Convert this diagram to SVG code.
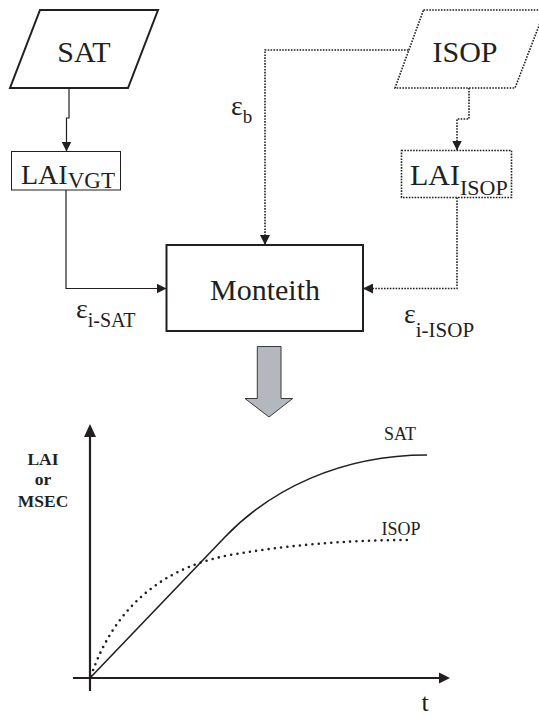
<svg xmlns="http://www.w3.org/2000/svg" width="539" height="717" viewBox="0 0 539 717">
<defs>
<style>
.solid{fill:none;stroke:#231f20;stroke-width:1.2}
.dot{fill:none;stroke:#231f20;stroke-width:1.6;stroke-dasharray:1.6 1.3}
</style>
<marker id="ah" viewBox="0 0 10 10" refX="10" refY="5" markerWidth="10" markerHeight="10" markerUnits="userSpaceOnUse" orient="auto">
<path d="M0,0 L10,5 L0,10 z" fill="#231f20"/>
</marker>
</defs>
<rect width="539" height="717" fill="#fff"/>

<g id="sat">
<polygon points="40,10 158,10 128,88 10,88" fill="none" stroke="#231f20" stroke-width="2"/>
<text font-family="Liberation Serif, Times New Roman, serif" font-size="30" fill="#231f20" x="84" y="62" text-anchor="middle">SAT</text>
</g>

<g id="isop">
<polygon points="423.5,10 545,10 515,88 395,88" fill="none" stroke="#231f20" stroke-width="1.6" stroke-dasharray="1.6 1.3"/>
<text font-family="Liberation Serif, Times New Roman, serif" font-size="30" fill="#231f20" x="465" y="62" text-anchor="middle">ISOP</text>
</g>

<g id="lai_vgt">
<rect x="11.5" y="151.5" width="109" height="38.5" fill="none" stroke="#231f20" stroke-width="1"/>
<text font-family="Liberation Serif, Times New Roman, serif" fill="#231f20" x="21" y="184"><tspan font-size="28">LAI</tspan><tspan font-size="23" dy="4">VGT</tspan></text>
</g>

<g id="lai_isop">
<rect x="401.5" y="150.5" width="110" height="47" class="dot"/>
<text font-family="Liberation Serif, Times New Roman, serif" fill="#231f20" x="410" y="185"><tspan font-size="30">LAI</tspan><tspan font-size="22" dy="10">ISOP</tspan></text>
</g>

<g id="monteith">
<rect x="166.5" y="245" width="196.5" height="86" fill="none" stroke="#231f20" stroke-width="2"/>
<text font-family="Liberation Serif, Times New Roman, serif" font-size="30" fill="#231f20" x="265" y="300" text-anchor="middle">Monteith</text>
</g>

<g id="connectors">
<path class="solid" d="M69,88 V118 H66.5 V151.5" marker-end="url(#ah)"/>
<path class="solid" d="M66,190 V288.5 H166.5" marker-end="url(#ah)"/>
<path class="dot" d="M408.5,50 H265 V245" marker-end="url(#ah)"/>
<path class="dot" d="M469,88 V119 H457 V150.5" marker-end="url(#ah)"/>
<path class="dot" d="M457,197.5 V288.5 H363" marker-end="url(#ah)"/>
</g>

<g id="labels">
<text font-family="Liberation Serif, Times New Roman, serif" fill="#231f20" x="231" y="115"><tspan font-size="28">ε</tspan><tspan font-size="19" dy="8">b</tspan></text>
<text font-family="Liberation Serif, Times New Roman, serif" fill="#231f20" x="76" y="318"><tspan font-size="28">ε</tspan><tspan font-size="20" dy="9">i-SAT</tspan></text>
<text font-family="Liberation Serif, Times New Roman, serif" fill="#231f20" x="404" y="323"><tspan font-size="28">ε</tspan><tspan font-size="21" dy="14">i-ISOP</tspan></text>
</g>

<g id="bigarrow">
<path d="M257.3,346.5 H281 V398.5 H292.7 L269,417 L245,398.5 H257.3 Z" fill="#b4b8be" stroke="#3a3a3a" stroke-width="1"/>
</g>

<g id="chart">
<path d="M90,691 V436" stroke="#231f20" stroke-width="2.2" fill="none"/>
<path d="M84,437 L90,424 L96,437 Z" fill="#231f20"/>
<path d="M73,678 H440" stroke="#231f20" stroke-width="2.2" fill="none"/>
<path d="M439,672.5 L450,678 L439,683.5 Z" fill="#231f20"/>
<path d="M90,678 L225,537 C270,490 340,455 427,455" fill="none" stroke="#231f20" stroke-width="1.6"/>
<path d="M91,676 C110,620 150,570 230,555 C300,543 360,540 412,540" fill="none" stroke="#231f20" stroke-width="2.6" stroke-linecap="round" stroke-dasharray="0 6.3"/>
<text font-family="Liberation Serif, Times New Roman, serif" fill="#231f20" x="400" y="440" font-size="18" text-anchor="middle">SAT</text>
<text font-family="Liberation Serif, Times New Roman, serif" fill="#231f20" x="401" y="535" font-size="18" text-anchor="middle">ISOP</text>
<text font-family="Liberation Serif, Times New Roman, serif" fill="#231f20" x="425" y="711" font-size="26" text-anchor="middle">t</text>
<text font-family="Liberation Serif, Times New Roman, serif" font-weight="bold" font-size="17.5" fill="#231f20" x="43" y="465" text-anchor="middle">LAI</text>
<text font-family="Liberation Serif, Times New Roman, serif" font-weight="bold" font-size="17.5" fill="#231f20" x="43" y="485" text-anchor="middle">or</text>
<text font-family="Liberation Serif, Times New Roman, serif" font-weight="bold" font-size="17.5" fill="#231f20" x="43" y="507" text-anchor="middle">MSEC</text>
</g>
</svg>
